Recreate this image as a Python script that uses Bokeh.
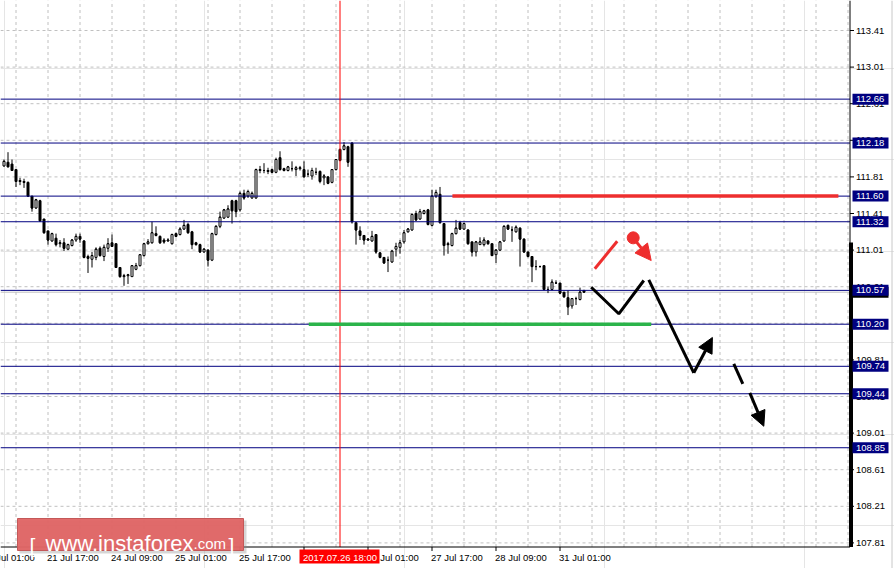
from bokeh.plotting import figure
from bokeh.models import ColumnDataSource, Arrow, NormalHead
from bokeh.core.properties import value
from bokeh.embed import file_html
from bokeh.resources import INLINE

# ---------------- data (USD/JPY H1) ----------------
open_ = [111.93, 111.97, 111.95, 111.89, 111.77, 111.76, 111.75, 111.60, 111.47, 111.55,
         111.35, 111.22, 111.11, 111.14, 111.08, 111.09, 111.02, 111.06, 111.12, 111.16,
         111.11, 110.94, 110.91, 110.93, 111.03, 110.94, 111.03, 111.09, 111.08, 110.82,
         110.72, 110.73, 110.72, 110.80, 110.84, 110.95, 111.08, 111.09, 111.19, 111.16,
         111.12, 111.11, 111.08, 111.19, 111.18, 111.24, 111.29, 111.21, 111.09, 111.07,
         110.99, 111.01, 110.90, 111.18, 111.27, 111.36, 111.37, 111.55, 111.55, 111.45,
         111.63, 111.60, 111.58, 111.58, 111.88, 111.88, 111.88, 111.89, 111.86, 112.02,
         111.90, 111.88, 111.90, 111.89, 111.90, 111.89, 111.84, 111.82, 111.86, 111.87,
         111.80, 111.81, 111.75, 111.89, 112.11, 112.11, 112.14, 112.18, 111.31, 111.22,
         111.17, 111.12, 111.11, 111.18, 110.98, 110.93, 110.90, 110.88, 111.02, 111.04,
         111.10, 111.21, 111.23, 111.41, 111.35, 111.41, 111.45, 111.28, 111.60, 111.62,
         111.30, 111.08, 111.06, 111.19, 111.31, 111.24, 111.23, 111.10, 110.99, 111.07,
         111.07, 111.11, 111.08, 110.96, 111.01, 111.11, 111.28, 111.23, 111.21, 111.25,
         111.13, 110.99, 110.94, 110.83, 110.83, 110.84, 110.58, 110.58, 110.65, 110.65,
         110.55, 110.49, 110.40, 110.48, 110.47, 110.57]
high = [112.00, 112.08, 112.00, 111.89, 111.80, 111.79, 111.76, 111.60, 111.57, 111.56,
        111.35, 111.22, 111.20, 111.19, 111.12, 111.14, 111.08, 111.13, 111.19, 111.19,
        111.12, 110.96, 110.99, 111.04, 111.05, 111.07, 111.14, 111.18, 111.08, 110.82,
        110.75, 110.75, 110.84, 110.87, 110.96, 111.09, 111.13, 111.32, 111.27, 111.17,
        111.14, 111.14, 111.19, 111.20, 111.26, 111.34, 111.31, 111.22, 111.10, 111.08,
        111.03, 111.02, 111.20, 111.28, 111.43, 111.46, 111.50, 111.56, 111.56, 111.65,
        111.67, 111.67, 111.65, 111.90, 111.93, 111.96, 111.91, 111.90, 112.02, 112.09,
        111.91, 111.93, 111.98, 111.93, 111.93, 111.98, 111.89, 111.91, 111.91, 111.88,
        111.84, 111.82, 111.89, 112.00, 112.12, 112.19, 112.15, 112.19, 111.31, 111.27,
        111.17, 111.14, 111.22, 111.18, 110.99, 110.93, 110.94, 111.00, 111.09, 111.12,
        111.23, 111.25, 111.41, 111.44, 111.46, 111.45, 111.46, 111.67, 111.67, 111.70,
        111.30, 111.10, 111.20, 111.34, 111.33, 111.31, 111.24, 111.10, 111.11, 111.15,
        111.15, 111.12, 111.08, 111.02, 111.11, 111.28, 111.29, 111.27, 111.28, 111.26,
        111.14, 110.99, 110.94, 110.90, 110.84, 110.84, 110.61, 110.69, 110.68, 110.65,
        110.55, 110.57, 110.48, 110.50, 110.60, 110.57]
low = [111.92, 111.92, 111.88, 111.70, 111.72, 111.69, 111.59, 111.43, 111.46, 111.32,
       111.19, 111.07, 111.10, 111.05, 111.04, 111.00, 111.01, 111.05, 111.10, 111.09,
       110.92, 110.76, 110.82, 110.90, 110.94, 110.89, 110.99, 111.05, 110.82, 110.71,
       110.62, 110.64, 110.72, 110.79, 110.83, 110.94, 111.07, 111.08, 111.16, 111.08,
       111.08, 111.10, 111.07, 111.15, 111.17, 111.23, 111.19, 111.02, 111.06, 110.98,
       110.98, 110.83, 110.89, 111.17, 111.25, 111.35, 111.36, 111.30, 111.37, 111.43,
       111.56, 111.58, 111.57, 111.57, 111.85, 111.85, 111.84, 111.85, 111.85, 111.88,
       111.87, 111.87, 111.87, 111.82, 111.88, 111.81, 111.81, 111.78, 111.83, 111.74,
       111.72, 111.73, 111.74, 111.88, 111.98, 112.10, 111.92, 111.30, 111.07, 111.12,
       111.07, 111.11, 111.10, 110.97, 110.92, 110.86, 110.77, 110.87, 110.94, 110.97,
       111.08, 111.20, 111.22, 111.33, 111.34, 111.40, 111.28, 111.27, 111.58, 111.30,
       110.95, 110.97, 111.05, 111.18, 111.23, 111.23, 111.07, 110.94, 110.94, 111.07,
       111.05, 111.07, 110.95, 110.87, 111.00, 111.10, 111.23, 111.10, 111.20, 110.83,
       110.98, 110.93, 110.66, 110.79, 110.82, 110.57, 110.54, 110.57, 110.64, 110.53,
       110.49, 110.30, 110.37, 110.41, 110.46, 110.55]
close = [111.98, 111.92, 111.88, 111.76, 111.76, 111.75, 111.60, 111.47, 111.56, 111.33,
         111.20, 111.12, 111.19, 111.07, 111.09, 111.03, 111.07, 111.12, 111.16, 111.13,
         110.93, 110.92, 110.95, 111.02, 110.95, 111.04, 111.08, 111.05, 110.82, 110.72,
         110.73, 110.74, 110.84, 110.84, 110.96, 111.08, 111.10, 111.20, 111.17, 111.09,
         111.10, 111.12, 111.18, 111.16, 111.24, 111.28, 111.20, 111.07, 111.07, 110.99,
         111.02, 110.90, 111.19, 111.27, 111.37, 111.45, 111.46, 111.44, 111.43, 111.63,
         111.58, 111.65, 111.63, 111.89, 111.89, 111.88, 111.87, 111.86, 112.00, 111.89,
         111.88, 111.92, 111.90, 111.91, 111.91, 111.81, 111.84, 111.88, 111.86, 111.76,
         111.82, 111.74, 111.89, 112.00, 111.99, 112.15, 111.97, 111.32, 111.23, 111.17,
         111.12, 111.13, 111.16, 110.99, 110.93, 110.87, 110.90, 111.00, 111.05, 111.09,
         111.20, 111.24, 111.40, 111.34, 111.43, 111.44, 111.29, 111.60, 111.64, 111.31,
         111.06, 111.07, 111.19, 111.25, 111.24, 111.30, 111.08, 110.99, 111.10, 111.10,
         111.12, 111.08, 110.95, 111.01, 111.10, 111.27, 111.24, 111.23, 111.26, 111.13,
         110.99, 110.94, 110.83, 110.83, 110.83, 110.58, 110.58, 110.66, 110.65, 110.54,
         110.50, 110.39, 110.48, 110.48, 110.55, 110.55]

time_tick_idx = [-5, 11, 27, 43, 59, 75, 91, 107, 123, 139]
time_tick_labels = ["21 Jul 01:00", "21 Jul 17:00", "24 Jul 09:00", "25 Jul 01:00",
                    "25 Jul 17:00", "26 Jul 09:00", "27 Jul 01:00", "27 Jul 17:00",
                    "28 Jul 09:00", "31 Jul 01:00"]
grid_bar_idx = list(range(3, 212, 8))
price_ticks = [107.81, 108.21, 108.61, 109.01, 109.41, 109.81, 110.21, 110.61,
               111.01, 111.41, 111.81, 112.21, 112.61, 113.01, 113.41]
levels = [112.66, 112.18, 111.60, 111.32, 110.57, 110.20, 109.74, 109.44, 108.85]
crosshair_idx = 84
crosshair_text = "2017.07.26 18:00"

resist_x = [112.1, 208.6]
resist_y = [111.60, 111.60]
support_x = [76.2, 161.8]
support_y = [110.20, 110.20]

fc1_x = [146.8, 153.7, 159.95]
fc1_y = [110.604, 110.314, 110.678]
fc2_x = [161.2, 172.45]
fc2_y = [110.685, 109.669]
fc_up = [172.45, 109.669, 177.1, 110.055]
fc_dash_x = [182.45, 184.7]
fc_dash_y = [109.767, 109.549]
fc_down = [186.45, 109.45, 189.95, 109.085]
red_x = [147.7, 153.3]
red_y = [110.806, 111.107]
red_dot = [157.3, 111.144]
red_arrow = [157.3, 111.144, 161.8, 110.896]

# ---------------- geometry (pixels -> data units) ----------------
BAR0_PX, PX_PER_BAR = 3.5, 4.0
P_ANCHOR, P_ANCHOR_PX, PX_PER_UNIT = 113.41, 30.0, 91.5
W, H = 894, 568


def px_x(sx):
    return (sx - BAR0_PX) / PX_PER_BAR


def px_y(sy):
    return P_ANCHOR - (sy - P_ANCHOR_PX) / PX_PER_UNIT


AXIS_X = px_x(849.5)      # price-scale line
AXIS_Y = px_y(546.5)      # time-scale line
LEFT = px_x(0)
TOP = px_y(0)
HALF_BOX = 5.5 / PX_PER_UNIT

FONT = "Liberation Sans"
FS = value("9.5px")
NAVY = "#000080"
RED = "#ee2e2e"

p = figure(width=W, height=H, x_range=(px_x(0), px_x(W)), y_range=(px_y(H), px_y(0)),
           x_axis_location=None, y_axis_location=None,
           output_backend="svg", toolbar_location=None, tools="",
           min_border_left=0, min_border_top=0, min_border_right=0, min_border_bottom=0)
p.outline_line_color = None
p.background_fill_color = "white"
p.border_fill_color = "white"

# grid
p.segment(x0=grid_bar_idx, y0=[AXIS_Y] * len(grid_bar_idx), x1=grid_bar_idx,
          y1=[TOP] * len(grid_bar_idx), line_color="#c0c0c0", line_dash="3 3", line_width=1)
p.segment(x0=[LEFT] * len(price_ticks), y0=price_ticks, x1=[AXIS_X] * len(price_ticks),
          y1=price_ticks, line_color="#c0c0c0", line_dash="3 3", line_width=1)

# bid line
p.segment(x0=[LEFT], y0=[close[-1]], x1=[AXIS_X], y1=[close[-1]], line_color="#c0c0c0",
          line_width=1)

# candles
n = len(close)
xs = list(range(n))
src = ColumnDataSource(dict(
    x=xs, left=[i - 0.25 for i in xs], right=[i + 0.25 for i in xs],
    h=high, l=low, o=open_, c=close,
    top=[max(o, c) for o, c in zip(open_, close)],
    bottom=[min(o, c) for o, c in zip(open_, close)],
    fill=["black" if c < o else "white" for o, c in zip(open_, close)],
))
p.segment(x0="x", y0="h", x1="x", y1="l", line_color="black", line_width=1, source=src)
p.quad(left="left", right="right", top="top", bottom="bottom", fill_color="fill",
       line_color="black", line_width=1, source=src)
p.segment(x0="left", y0="c", x1="right", y1="c", line_color="black", line_width=1,
          source=src)

# horizontal levels
p.segment(x0=[LEFT] * len(levels), y0=levels, x1=[AXIS_X] * len(levels), y1=levels,
          line_color=NAVY, line_width=1)

# crosshair
p.segment(x0=[crosshair_idx], y0=[AXIS_Y], x1=[crosshair_idx], y1=[TOP],
          line_color="#ff0000", line_width=1)

# resistance / support
p.line(resist_x, resist_y, line_color=RED, line_width=3.5)
p.line(support_x, support_y, line_color="#2bb44a", line_width=3.5)

# forecast drawing
p.line(fc1_x, fc1_y, line_color="black", line_width=3)
p.line(fc2_x, fc2_y, line_color="black", line_width=3)
p.add_layout(Arrow(end=NormalHead(size=15, fill_color="black", line_color="black"),
                   x_start=fc_up[0], y_start=fc_up[1], x_end=fc_up[2], y_end=fc_up[3],
                   line_color="black", line_width=3))
p.line(fc_dash_x, fc_dash_y, line_color="black", line_width=3)
p.add_layout(Arrow(end=NormalHead(size=15, fill_color="black", line_color="black"),
                   x_start=fc_down[0], y_start=fc_down[1], x_end=fc_down[2],
                   y_end=fc_down[3], line_color="black", line_width=3))
p.line(red_x, red_y, line_color=RED, line_width=3)
p.scatter([red_dot[0]], [red_dot[1]], size=12, fill_color=RED, line_color=RED)
p.add_layout(Arrow(end=NormalHead(size=16, fill_color=RED, line_color=RED),
                   x_start=red_arrow[0], y_start=red_arrow[1], x_end=red_arrow[2],
                   y_end=red_arrow[3], line_color=RED, line_width=3))

# ---------------- price scale (right) ----------------
p.segment(x0=[AXIS_X], y0=[AXIS_Y], x1=[AXIS_X], y1=[TOP], line_color="black", line_width=1)
p.quad(left=[px_x(848.5)], right=[px_x(852.5)], top=[px_y(242)], bottom=[AXIS_Y],
       fill_color="black", line_color=None)
p.segment(x0=[AXIS_X] * len(price_ticks), y0=price_ticks,
          x1=[px_x(853.5)] * len(price_ticks), y1=price_ticks, line_color="black",
          line_width=1)
p.text(x=[px_x(855.5)] * len(price_ticks), y=price_ticks,
       text=[f"{t:.2f}" for t in price_ticks], text_font=value(FONT), text_font_size=FS,
       text_color="black", text_align="left", text_baseline="middle")

# neighbouring pane edge
p.segment(x0=[px_x(891.5)], y0=[px_y(H)], x1=[px_x(891.5)], y1=[TOP],
          line_color="#c8c8c8", line_width=1)

# bid label (under the level labels)
bid = close[-1]
p.quad(left=[px_x(852)], right=[px_x(888)], top=[bid + HALF_BOX],
       bottom=[bid - HALF_BOX], fill_color="black", line_color=None)
# level labels
p.quad(left=[px_x(852)] * len(levels), right=[px_x(888)] * len(levels),
       top=[lv + HALF_BOX for lv in levels],
       bottom=[lv - HALF_BOX for lv in levels], fill_color=NAVY, line_color=None)
p.text(x=[px_x(855.5)] * len(levels), y=levels, text=[f"{lv:.2f}" for lv in levels],
       text_font=value(FONT), text_font_size=FS, text_color="white", text_align="left",
       text_baseline="middle")

# ---------------- time scale (bottom) ----------------
p.segment(x0=[LEFT], y0=[AXIS_Y], x1=[AXIS_X], y1=[AXIS_Y], line_color="black", line_width=1)
p.segment(x0=time_tick_idx, y0=[AXIS_Y] * len(time_tick_idx), x1=time_tick_idx,
          y1=[px_y(550.5)] * len(time_tick_idx), line_color="black", line_width=1)
p.text(x=time_tick_idx, y=[px_y(556.5)] * len(time_tick_idx), text=time_tick_labels,
       text_font=value(FONT), text_font_size=FS, text_color="black", text_align="left",
       text_baseline="middle", x_offset=-1)
p.quad(left=[px_x(299)], right=[px_x(379)], top=[px_y(549)], bottom=[px_y(563)],
       fill_color="#ff0000", line_color=None)
p.text(x=[crosshair_idx], y=[px_y(556.5)], text=[crosshair_text], text_font=value(FONT),
       text_font_size=FS, text_color="white", text_align="center", text_baseline="middle")

# ---------------- watermark ----------------
p.quad(left=[px_x(19)], right=[px_x(246)], top=[px_y(520)], bottom=[px_y(553)],
       fill_color="#8a8a8a", fill_alpha=0.35, line_color=None)
p.quad(left=[px_x(17)], right=[px_x(243)], top=[px_y(518)], bottom=[px_y(550)],
       fill_color="#e06464", fill_alpha=0.95, line_color="#c45858", line_width=1)
p.text(x=[px_x(45)], y=[px_y(543)], text=["www.instaforex"], text_font=value(FONT),
       text_font_size=value("22px"), text_color="white", text_align="left",
       text_baseline="alphabetic")
p.text(x=[px_x(193)], y=[px_y(543)], text=[".com"], text_font=value(FONT),
       text_font_size=value("15px"), text_color="white", text_align="left",
       text_baseline="alphabetic")
p.text(x=[px_x(29), px_x(228)], y=[px_y(545), px_y(545)], text=["[", "]"],
       text_font=value(FONT), text_font_size=value("21px"), text_color="white",
       text_align="left", text_baseline="alphabetic")

open("out.html", "w").write(file_html(p, INLINE))
